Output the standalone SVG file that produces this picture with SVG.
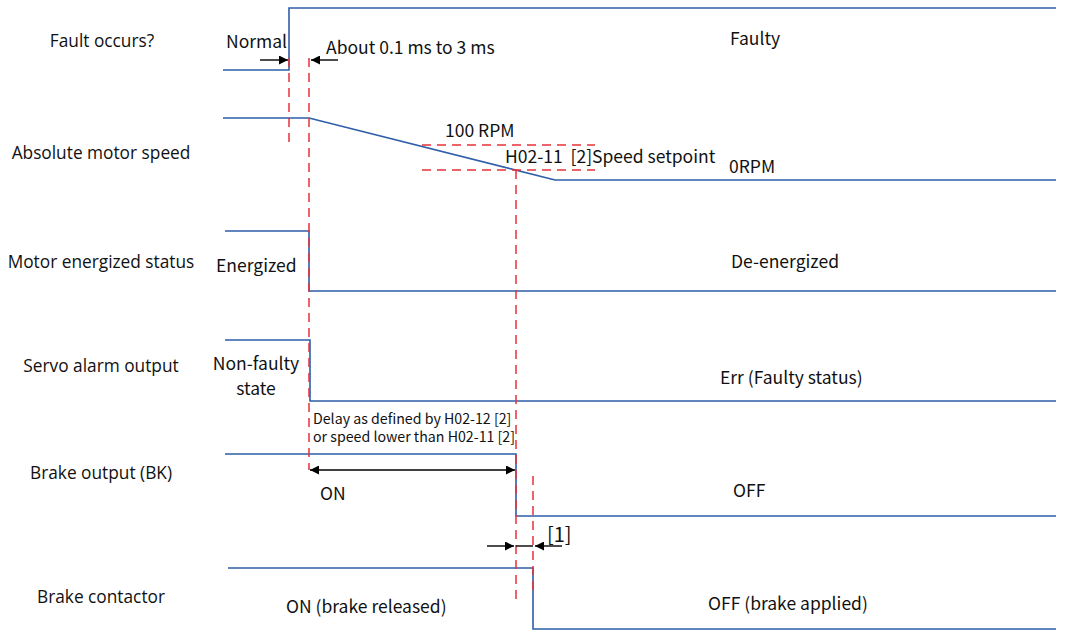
<svg xmlns="http://www.w3.org/2000/svg" width="1076" height="630" viewBox="0 0 1076 630">
<defs>
<marker id="ah" viewBox="0 0 10 10" refX="10" refY="5" markerWidth="9" markerHeight="9" markerUnits="userSpaceOnUse" orient="auto"><path d="M0,0 L10,5 L0,10 z" fill="#000"/></marker>
<marker id="ahs" viewBox="0 0 10 10" refX="0" refY="5" markerWidth="9" markerHeight="9" markerUnits="userSpaceOnUse" orient="auto"><path d="M10,0 L0,5 L10,10 z" fill="#000"/></marker>
<style>
.sig{fill:none;stroke:#2e5ea8;stroke-width:1.6}
.red{fill:none;stroke:#e8303a;stroke-width:1.5;stroke-dasharray:9,6}
.arr{fill:none;stroke:#000;stroke-width:1.4}
.lbl{font-family:"Open Sans","Noto Sans",sans-serif;font-size:17.3px;fill:#111;text-anchor:middle}
.t{font-family:"Noto Sans CJK SC","Noto Sans",sans-serif;font-size:17.5px;fill:#111}
.s{font-family:"Noto Sans CJK SC","Noto Sans",sans-serif;font-size:14.2px;fill:#111}
</style>
</defs>
<rect width="1076" height="630" fill="#fff"/>
<g id="labels">
<text class="lbl" x="102" y="47">Fault occurs?</text>
<text class="lbl" x="101" y="159">Absolute motor speed</text>
<text class="lbl" x="101" y="268">Motor energized status</text>
<text class="lbl" x="101" y="372">Servo alarm output</text>
<text class="lbl" x="101" y="479">Brake output (BK)</text>
<text class="lbl" x="101" y="603">Brake contactor</text>
</g>
<g id="signals">
<path id="fault" class="sig" d="M223,70 H289 V8 H1056"/>
<path id="speed" class="sig" d="M223,118 H309 L555,180 H1056"/>
<path id="energized" class="sig" d="M225,231 H309 V291 H1056"/>
<path id="alarm" class="sig" d="M225,340 H310 V401 H1056"/>
<path id="brake" class="sig" d="M225,454 H516 V516 H1056"/>
<path id="contactor" class="sig" d="M228,568 H533 V629 H1056"/>
</g>
<g id="connectors">
<line class="red" x1="289" y1="58" x2="289" y2="142"/>
<line class="red" x1="309" y1="58" x2="309" y2="470"/>
<line class="red" x1="516" y1="170" x2="516" y2="600"/>
<line class="red" x1="533" y1="476" x2="533" y2="592"/>
<line class="red" x1="422" y1="145" x2="595" y2="145"/>
<line class="red" x1="422" y1="170" x2="595" y2="170"/>
<line class="arr" x1="260" y1="60" x2="288" y2="60" marker-end="url(#ah)"/>
<line class="arr" x1="338" y1="60" x2="311" y2="60" marker-end="url(#ah)"/>
<line class="arr" x1="310" y1="470" x2="515" y2="470" marker-start="url(#ahs)" marker-end="url(#ah)"/>
<line class="arr" x1="487" y1="546" x2="514" y2="546" marker-end="url(#ah)"/>
<line class="arr" x1="516" y1="546" x2="533" y2="546"/>
<line class="arr" x1="562" y1="546" x2="535" y2="546" marker-end="url(#ah)"/>
</g>
<g id="texts">
<text class="t" x="226" y="48">Normal</text>
<text class="t" x="326" y="54">About 0.1 ms to 3 ms</text>
<text class="t" x="730" y="45">Faulty</text>
<text class="t" x="445" y="137">100 RPM</text>
<text class="t" x="505" y="163" style="white-space:pre">H02-11  [2]Speed setpoint</text>
<text class="t" x="729" y="173">0RPM</text>
<text class="t" x="216" y="272">Energized</text>
<text class="t" x="731" y="268">De-energized</text>
<text class="t" x="256" y="370" text-anchor="middle">Non-faulty</text>
<text class="t" x="256" y="395" text-anchor="middle">state</text>
<text class="t" x="720" y="384">Err (Faulty status)</text>
<text class="s" x="313" y="424">Delay as defined by H02-12 [2]</text>
<text class="s" x="313" y="442">or speed lower than H02-11 [2]</text>
<text class="t" x="320" y="500">ON</text>
<text class="t" x="733" y="497">OFF</text>
<text class="t" x="547" y="542" style="font-size:20px">[1]</text>
<text class="t" x="286" y="613">ON (brake released)</text>
<text class="t" x="708" y="610">OFF (brake applied)</text>
</g>
</svg>
